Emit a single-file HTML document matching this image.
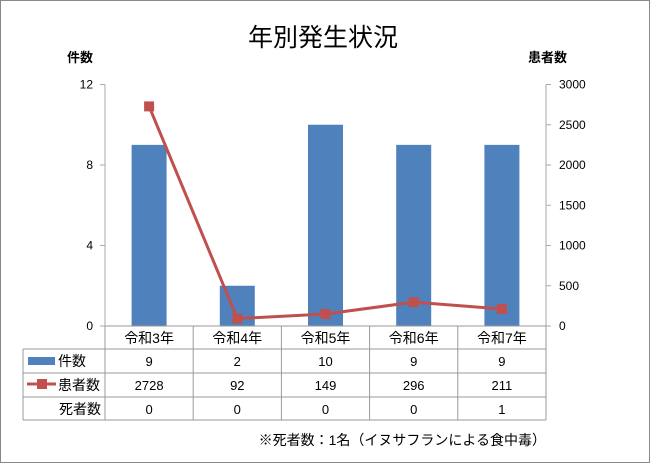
<!DOCTYPE html>
<html><head><meta charset="utf-8">
<style>
body{margin:0;background:#fff;}
#wrap{position:relative;width:650px;height:463px;box-sizing:border-box;border:1px solid #888;overflow:hidden;}
svg text{font-family:"Liberation Sans","Noto Sans CJK JP",sans-serif;fill:#000;}
</style></head>
<body>
<div id="wrap">
<svg id="chart" width="650" height="463"></svg>
</div>
<script>
const categories=["令和3年","令和4年","令和5年","令和6年","令和7年"];
const caseCounts=[9,2,10,9,9];
const patientCounts=[2728,92,149,296,211];
const deathCounts=[0,0,0,0,1];
const leftTicks=[0,4,8,12];
const rightTicks=[0,500,1000,1500,2000,2500,3000];

const NS="http://www.w3.org/2000/svg";
const svg=document.getElementById('chart');
function mk(tag,attrs,text){const e=document.createElementNS(NS,tag);for(const k in attrs)e.setAttribute(k,attrs[k]);if(text!==undefined)e.textContent=text;svg.appendChild(e);return e;}
const X0=104,X1=545,Y0=325,Y1=83.5;
const colW=(X1-X0)/categories.length;
const yL=v=>Y0-(v/12)*(Y0-Y1);
const yR=v=>Y0-(v/3000)*(Y0-Y1);
const xC=i=>X0+colW*(i+0.5);

let t=mk('text',{x:322,y:45,'text-anchor':'middle','font-size':25});
t.textContent='年別発生状況';
t=mk('text',{x:66,y:61,'font-size':13,'font-weight':'bold'},'件数');

t=mk('text',{x:527,y:61,'font-size':13,'font-weight':'bold'},'患者数');


let l=mk('line',{x1:X0,y1:Y1,x2:X0,y2:Y0,stroke:'#aaa'});

l=mk('line',{x1:X1,y1:Y1,x2:X1,y2:Y0,stroke:'#aaa'});

leftTicks.forEach(v=>{
  const e=mk('text',{x:92,y:yL(v)+4,'text-anchor':'end','font-size':12},String(v));
  
  const k=mk('line',{x1:X0-5,x2:X0,y1:yL(v),y2:yL(v),stroke:'#aaa'});
  
});
rightTicks.forEach(v=>{
  const e=mk('text',{x:558,y:yR(v)+4,'font-size':12},String(v));
  
  const k=mk('line',{x1:X1,x2:X1+5,y1:yR(v),y2:yR(v),stroke:'#aaa'});
  
});
caseCounts.forEach((v,i)=>{
  const b=mk('rect',{x:xC(i)-17.5,y:yL(v),width:35,height:Y0-yL(v),fill:'#4f81bd'});
  
});
const pl=mk('polyline',{points:patientCounts.map((v,i)=>xC(i)+','+yR(v)).join(' '),fill:'none',stroke:'#c0504d','stroke-width':3});

patientCounts.forEach((v,i)=>{
  const p=mk('rect',{x:xC(i)-5,y:yR(v)-5,width:10,height:10,fill:'#c0504d'});
  
});
const rows=[348,372,396,419];
const tl=22;
const grid=[];
grid.push([X0,Y0,X0,419],[X1,Y0,X1,419],[tl,348,tl,419],[X0,Y0,X1,Y0]);
for(let i=1;i<5;i++)grid.push([X0+colW*i,Y0,X0+colW*i,419]);
rows.forEach(y=>grid.push([tl,y,X1,y]));
grid.forEach(g=>{const e=mk('line',{x1:g[0],y1:g[1],x2:g[2],y2:g[3],stroke:'#999'});
  });
categories.forEach((c,i)=>{
  const e=mk('text',{x:xC(i),y:342,'text-anchor':'middle','font-size':14},c);
  
});
const series=[caseCounts,patientCounts,deathCounts];
series.forEach((arr,r)=>arr.forEach((v,i)=>{
  const e=mk('text',{x:xC(i),y:rows[r]+17,'text-anchor':'middle','font-size':13},String(v));
  
}));
let r=mk('rect',{x:27,y:356,width:27,height:8,fill:'#4f81bd'});

t=mk('text',{x:57,y:365,'font-size':14},'件数');

l=mk('line',{x1:26,x2:55,y1:383,y2:383,stroke:'#c0504d','stroke-width':3});

r=mk('rect',{x:36,y:378,width:10,height:10,fill:'#c0504d'});

t=mk('text',{x:57,y:389,'font-size':14},'患者数');

t=mk('text',{x:100,y:413,'text-anchor':'end','font-size':14},'死者数');

t=mk('text',{x:545,y:444,'text-anchor':'end','font-size':14},'※死者数：1名（イヌサフランによる食中毒）');

</script>
</body></html>
